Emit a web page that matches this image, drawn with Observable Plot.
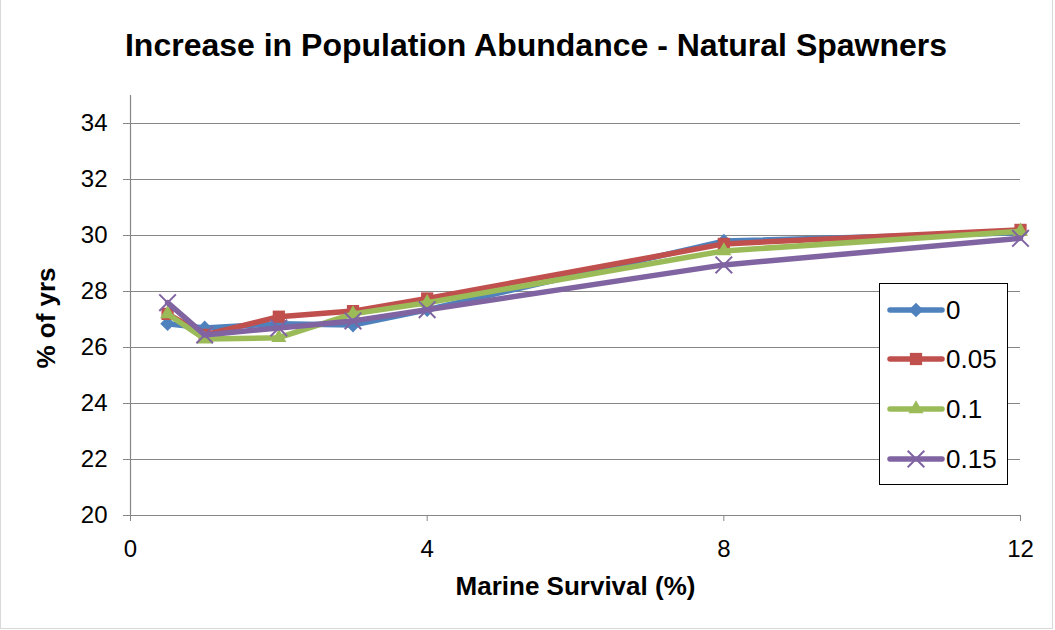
<!DOCTYPE html>
<html>
<head>
<meta charset="utf-8">
<script src="https://cdn.jsdelivr.net/npm/d3@7"></script>
<script src="https://cdn.jsdelivr.net/npm/@observablehq/plot@0.6"></script>
<style>
  html, body { margin: 0; padding: 0; background: #fff; }
  #chart {
    position: relative; width: 1053px; height: 629px;
    border: 1px solid #d9d9d9; border-top: none; box-sizing: border-box;
    font-family: "Liberation Sans", Arial, sans-serif; overflow: hidden;
  }
  #chart > svg { position: absolute; left: -1px; top: 0; max-width: none !important; }
  .title {
    position: absolute; left: 0; width: 1070px; top: 27px; text-align: center;
    font-weight: bold; font-size: 32px; color: #000;
  }
  .xtitle {
    position: absolute; left: 129px; width: 891px; top: 571px; text-align: center;
    font-weight: bold; font-size: 26px;
  }
  .ytitle {
    position: absolute; left: 45px; top: 318px; transform: translate(-50%, -50%) rotate(-90deg);
    font-weight: bold; font-size: 26px; white-space: nowrap;
  }
  .legend {
    position: absolute; left: 878px; top: 283px; width: 129px; height: 202px;
    border: 1.5px solid #000; background: #fff; box-sizing: border-box;
  }
  .legend .item { position: absolute; left: 0; height: 30px; display: flex; align-items: center; }
  .legend .item span { font-size: 26px; margin-left: 1px; }
</style>
</head>
<body>
<div id="chart"></div>
<script>
// Marine survival (%) on the x axis
const survival = [0.5, 1, 2, 3, 4, 8, 12];
// Series names (legend labels)
const seriesNames = ["0", "0.05", "0.1", "0.15"];
// % of years for each series
const pct0   = [26.85, 26.7, 26.85, 26.8, 27.35, 29.8, 30.1];
const pct005 = [27.2, 26.45, 27.1, 27.3, 27.75, 29.7, 30.2];
const pct010 = [27.2, 26.3, 26.35, 27.2, 27.6, 29.45, 30.15];
const pct015 = [27.6, 26.45, 26.7, 26.95, 27.35, 28.95, 29.9];
const yTicks = [20, 22, 24, 26, 28, 30, 32, 34];
const xTicks = [0, 4, 8, 12];

const seriesValues = [pct0, pct005, pct010, pct015];
const colors = ["#4F81BD", "#C0504D", "#9BBB59", "#8064A2"];
const symbols = ["diamond2", "square2", "triangle2", "times"];
const radii = [6.6, 7.8, 7.2, 7.6];

const series = seriesNames.map((name, i) => ({
  name,
  color: colors[i],
  symbol: symbols[i],
  r: radii[i],
  rows: survival.map((x, j) => ({x, y: seriesValues[i][j], name}))
}));

const marks = [
  Plot.gridY(yTicks, {stroke: "#868686", strokeOpacity: 1, strokeWidth: 1.2}),
  Plot.ruleY([20], {stroke: "#868686", strokeWidth: 1.2}),
  Plot.ruleX([0], {y1: 20, y2: 35, stroke: "#868686", strokeWidth: 1.2}),
  Plot.axisY(yTicks, {tickSize: 7, tickPadding: 16, stroke: "#868686", fontSize: 24, label: null, tickFormat: d => d}),
  Plot.axisX(xTicks, {tickSize: 6, tickPadding: 18, stroke: "#868686", fontSize: 24, label: null, tickFormat: d => d})
];

for (const s of series) {
  marks.push(Plot.line(s.rows, {x: "x", y: "y", stroke: s.color, strokeWidth: 5.5, strokeLinejoin: "round", strokeLinecap: "round"}));
  if (s.symbol === "times") {
    marks.push(Plot.dot(s.rows, {x: "x", y: "y", symbol: s.symbol, r: s.r, stroke: s.color, strokeWidth: 2}));
  } else {
    marks.push(Plot.dot(s.rows, {x: "x", y: "y", symbol: s.symbol, r: s.r, fill: s.color, stroke: "none"}));
  }
}

const plot = Plot.plot({
  width: 1055,
  height: 630,
  marginLeft: 130,
  marginRight: 35,
  marginTop: 95,
  marginBottom: 115,
  style: {fontFamily: "'Liberation Sans', Arial, sans-serif", color: "#000", background: "transparent"},
  x: {domain: [0, 12], axis: null},
  y: {domain: [20, 35], axis: null},
  marks
});

const chart = document.getElementById("chart");
chart.appendChild(plot);

const title = document.createElement("div");
title.className = "title";
title.textContent = "Increase in Population Abundance - Natural Spawners";
chart.appendChild(title);

const xt = document.createElement("div");
xt.className = "xtitle";
xt.textContent = "Marine Survival (%)";
chart.appendChild(xt);

const yt = document.createElement("div");
yt.className = "ytitle";
yt.textContent = "% of yrs";
chart.appendChild(yt);

// Legend box with line + marker swatches
const legend = document.createElement("div");
legend.className = "legend";
const rowTops = [11, 60, 110, 160];
series.forEach((s, i) => {
  const item = document.createElement("div");
  item.className = "item";
  item.style.top = rowTops[i] + "px";
  const sw = d3.create("svg").attr("width", 65).attr("height", 30);
  sw.append("line").attr("x1", 10).attr("x2", 62).attr("y1", 15).attr("y2", 15)
    .attr("stroke", s.color).attr("stroke-width", 5.5).attr("stroke-linecap", "round");
  const symType = {diamond2: d3.symbolDiamond2, square2: d3.symbolSquare2, triangle2: d3.symbolTriangle2, times: d3.symbolTimes}[s.symbol];
  const path = d3.symbol(symType, Math.PI * s.r * s.r)();
  const p = sw.append("path").attr("d", path).attr("transform", "translate(36,15)");
  if (s.symbol === "times") p.attr("fill", "none").attr("stroke", s.color).attr("stroke-width", 2);
  else p.attr("fill", s.color);
  item.appendChild(sw.node());
  const label = document.createElement("span");
  label.textContent = s.name;
  item.appendChild(label);
  legend.appendChild(item);
});
chart.appendChild(legend);
</script>
</body>
</html>
